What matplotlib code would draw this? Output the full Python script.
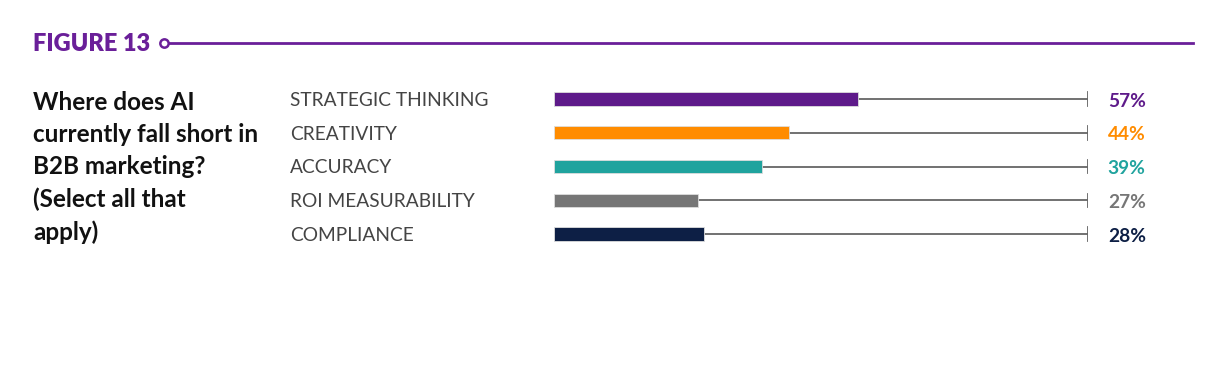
import matplotlib.pyplot as plt

# data
categories = ["STRATEGIC THINKING", "CREATIVITY", "ACCURACY", "ROI MEASURABILITY", "COMPLIANCE"]
values = [57, 44, 39, 27, 28]
colors = ["#5E1A8A", "#FF8C00", "#20A39E", "#767676", "#0D1F45"]
question = "Where does AI\ncurrently fall short in\nB2B marketing?\n(Select all that\napply)"
fig_title = "FIGURE 13"

W, H = 1223, 372
fig = plt.figure(figsize=(W / 100, H / 100), dpi=100)
plt.rcParams['font.family'] = ['Lato', 'DejaVu Sans']

# header with rule line
fig.text(33 / W, 1 - 44 / H, fig_title, fontsize=17, fontweight='heavy', color="#6A1F99",
         va='center', ha='left')
hdr = fig.add_axes([0, 0, 1, 1])
hdr.set_xlim(0, W)
hdr.set_ylim(H, 0)
hdr.axis('off')
hdr.plot([168, 1193], [43, 43], color="#6A1F99", lw=2)
hdr.plot([164], [43], marker='o', ms=6, mfc='white', mec="#6A1F99", mew=1.8)

# question text
fig.text(33 / W, 1 - 91 / H, question, fontsize=17.5, fontweight='bold', color="#111111",
         va='top', ha='left', linespacing=1.48)

# bar axes
row_h = 33.75
top = 99 - row_h / 2
ax = fig.add_axes([554 / W, 1 - (top + 5 * row_h) / H, 534 / W, 5 * row_h / H])
ax.set_xlim(0, 100)
ax.set_ylim(len(categories) - 0.5, -0.5)
ax.axis('off')

for i, (cat, v, c) in enumerate(zip(categories, values, colors)):
    ax.plot([v, 100], [i, i], color="#666666", lw=1.3, zorder=1)
    ax.plot([100, 100], [i - 0.2, i + 0.2], color="#666666", lw=1.3, zorder=1)
    ax.barh(i, v, height=0.39, color=c, edgecolor='#dddddd', linewidth=0.6, zorder=2)
    ax.text(-49.4, i + 0.04, cat, fontsize=13.8, color="#444444", va='center', ha='left',
            clip_on=False)
    ax.text(103.7, i + 0.06, f"{v}%", fontsize=13.8, fontweight='bold', color=c,
            va='center', ha='left', clip_on=False)

fig.savefig("out.png", dpi=100, facecolor='white')
